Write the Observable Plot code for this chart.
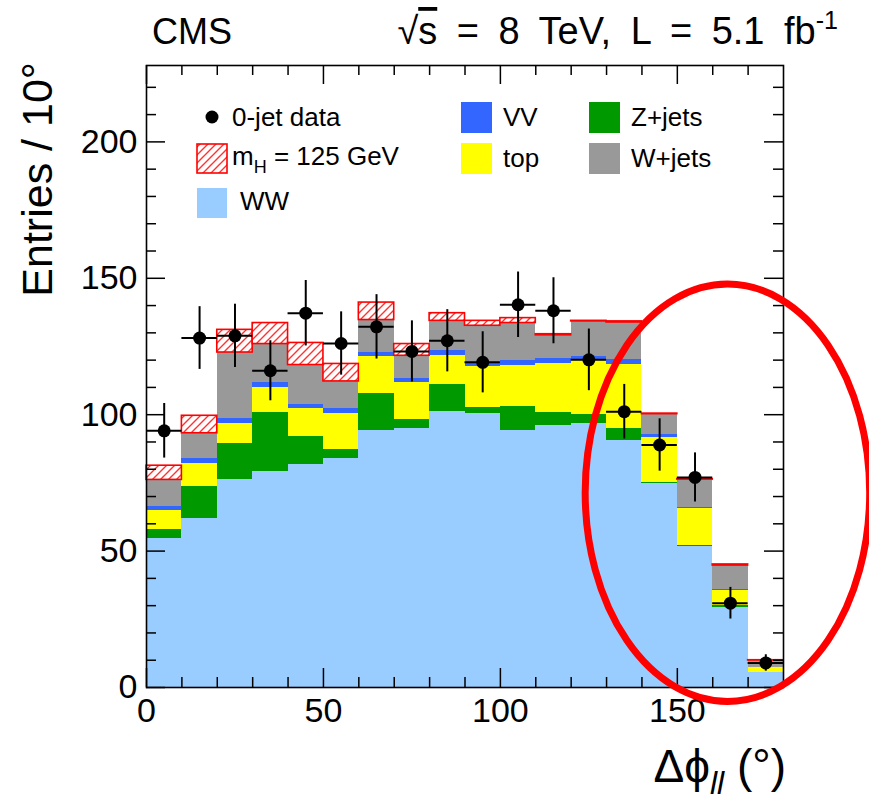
<!DOCTYPE html>
<html>
<head>
<meta charset="utf-8">
<script src="https://cdn.jsdelivr.net/npm/d3@7"></script>
<script src="https://cdn.jsdelivr.net/npm/@observablehq/plot@0.6"></script>
<style>
  body { margin: 0; background: #fff; }
  svg { display: block; }
</style>
</head>
<body>
<div id="chart"></div>
<script>
// ---- data (Δφ_ll bins of 10°) ----
const binEdges = [0,10,20,30,40,50,60,70,80,90,100,110,120,130,140,150,160,170,180];
const ww    = [54.8,62.0,76.1,79.1,81.6,83.8,94.1,94.8,101.1,100.5,94.1,96.0,96.6,90.5,74.6,51.6,29.4,5.4];
const zjets = [3.0,11.6,13.2,21.7,10.5,3.6,13.5,3.6,10.1,2.2,8.8,4.8,3.6,4.5,0.4,0.4,0.7,0.1];
const topq  = [7.0,8.6,7.6,9.2,10.2,13.1,13.6,13.4,10.6,14.9,15.0,18.1,19.9,23.3,16.7,13.5,5.4,1.7];
const vv    = [1.6,1.6,1.8,1.7,1.6,1.6,1.6,1.6,1.9,1.6,1.9,1.7,1.3,1.8,1.0,0.4,0.5,0.2];
const wjets = [9.7,9.4,24.1,14.2,14.3,10.1,11.9,8.2,10.7,13.4,13.8,8.5,12.8,13.7,7.5,10.3,8.7,2.5];
const higgs = [5.2,6.4,8.3,7.7,8.1,6.4,6.4,4.3,2.8,1.8,1.8,0.4,0.2,0.4,0.2,0.2,0.4,0.1];
const dataCounts = [94.1,128.1,128.9,116.1,137.2,126.1,132.2,123.2,127.1,119.2,140.3,138.1,120.1,101.1,88.9,77.0,30.9,9.0];
const dataErrors = [10.0,11.5,11.6,11.0,12.0,11.6,11.8,11.2,11.4,11.2,12.0,12.1,11.3,10.0,9.6,9.0,5.8,3.0];

const seriesNames  = ["WW","Z+jets","top","VV","W+jets","mH = 125 GeV"];
const seriesColors = ["#99ccff","#009900","#ffff00","#3366ff","#999999","url(#hatch)"];

const xMajorTicks = [0,50,100,150];
const xMinorTicks = [10,20,30,40,60,70,80,90,110,120,130,140,160,170];
const yMajorTicks = [0,50,100,150,200];
const yMinorTicks = [10,20,30,40,60,70,80,90,110,120,130,140,160,170,180,190,210,220];

// annotation ellipse (data units)
const ellipseCenter = [164.3, 71.2];
const ellipseRadii  = [40.2, 76.5];

// ---- layout ----
const W = 869, H = 808;
const mL = 146, mR = 86, mT = 65, mB = 121;
const frameW = W - mL - mR, frameH = H - mT - mB;
const FONT = "'Liberation Sans', Arial, Helvetica, sans-serif";

// stacked table
const layers = [ww, zjets, topq, vv, wjets, higgs];
const stackRows = [];
for (let i = 0; i < ww.length; i++) {
  let base = 0;
  layers.forEach((arr, k) => {
    stackRows.push({k, x1: binEdges[i], x2: binEdges[i+1], y1: base, y2: base + arr[i]});
    base += arr[i];
  });
}
const points = dataCounts.map((v, i) => ({
  x: (binEdges[i] + binEdges[i+1]) / 2, x1: binEdges[i], x2: binEdges[i+1],
  y: v, lo: v - dataErrors[i], hi: v + dataErrors[i]
}));

const marks = [];
layers.forEach((arr, k) => {
  const rows = stackRows.filter(r => r.k === k);
  if (k === 5) {
    marks.push(Plot.rect(rows, {x1: "x1", x2: "x2", y1: "y1", y2: "y2", fill: seriesColors[k], stroke: "#ff0000", strokeWidth: 1.6}));
  } else {
    marks.push(Plot.rect(rows, {x1: "x1", x2: "x2", y1: "y1", y2: "y2", fill: seriesColors[k], shapeRendering: "crispEdges"}));
  }
});
// data points with error bars
marks.push(Plot.ruleX(points, {x: "x", y1: "lo", y2: "hi", stroke: "black", strokeWidth: 2}));
marks.push(Plot.ruleY(points, {y: "y", x1: "x1", x2: "x2", stroke: "black", strokeWidth: 2}));
marks.push(Plot.dot(points, {x: "x", y: "y", r: 6.5, fill: "black"}));
// frame and inward ticks on all four sides
marks.push(Plot.frame({stroke: "black", strokeWidth: 1.6}));
const tk = {stroke: "black", strokeWidth: 1.5};
marks.push(Plot.tickX(xMajorTicks, {x: d => d, insetTop: frameH - 19, ...tk}));
marks.push(Plot.tickX(xMajorTicks, {x: d => d, insetBottom: frameH - 19, ...tk}));
marks.push(Plot.tickX(xMinorTicks, {x: d => d, insetTop: frameH - 10, ...tk}));
marks.push(Plot.tickX(xMinorTicks, {x: d => d, insetBottom: frameH - 10, ...tk}));
marks.push(Plot.tickY(yMajorTicks, {y: d => d, insetRight: frameW - 19, ...tk}));
marks.push(Plot.tickY(yMajorTicks, {y: d => d, insetLeft: frameW - 19, ...tk}));
marks.push(Plot.tickY(yMinorTicks, {y: d => d, insetRight: frameW - 10, ...tk}));
marks.push(Plot.tickY(yMinorTicks, {y: d => d, insetLeft: frameW - 10, ...tk}));
// tick labels
marks.push(Plot.text(xMajorTicks, {x: d => d, text: d => String(d), frameAnchor: "bottom", dy: 24, lineAnchor: "middle", fontSize: 34, fill: "black"}));
marks.push(Plot.text(yMajorTicks, {y: d => d, text: d => String(d), frameAnchor: "left", textAnchor: "end", dx: -9, lineAnchor: "middle", fontSize: 34, fill: "black"}));

const chart = Plot.plot({
  width: W, height: H,
  marginLeft: mL, marginRight: mR, marginTop: mT, marginBottom: mB,
  x: {domain: [0, 180], axis: null},
  y: {domain: [0, 228], axis: null},
  style: {fontFamily: FONT, background: "white", color: "black", overflow: "visible"},
  marks
});
document.getElementById("chart").appendChild(chart);

// ---- decorations drawn in the same SVG ----
const svg = d3.select(chart);
const defs = svg.insert("defs", ":first-child");
const pat = defs.append("pattern").attr("id", "hatch").attr("patternUnits", "userSpaceOnUse")
  .attr("width", 8).attr("height", 8);
pat.append("rect").attr("width", 8).attr("height", 8).attr("fill", "white");
pat.append("path").attr("d", "M-2,2 L2,-2 M0,8 L8,0 M6,10 L10,6")
  .attr("stroke", "#ff3030").attr("stroke-width", 1.4);

const xs = chart.scale("x"), ys = chart.scale("y");
const cx = xs.apply(ellipseCenter[0]), cy = ys.apply(ellipseCenter[1]);
const rx = xs.apply(ellipseCenter[0] + ellipseRadii[0]) - cx;
const ry = cy - ys.apply(ellipseCenter[1] + ellipseRadii[1]);
svg.append("ellipse").attr("cx", cx).attr("cy", cy).attr("rx", rx).attr("ry", ry)
  .attr("fill", "none").attr("stroke", "#ff0000").attr("stroke-width", 7);

const g = svg.append("g").attr("font-family", FONT).attr("fill", "black").attr("text-anchor", "start");
// header
g.append("text").attr("x", 152).attr("y", 44).attr("font-size", 36).text("CMS");
const hdr = g.append("text").attr("x", 838).attr("y", 44).attr("font-size", 38)
  .attr("text-anchor", "end").attr("word-spacing", 9);
hdr.append("tspan").text("√");
hdr.append("tspan").attr("text-decoration", "overline").text("s");
hdr.append("tspan").text(" = 8 TeV, L = 5.1 fb");
hdr.append("tspan").attr("font-size", 25).attr("dy", -15).text("-1");

// axis titles
g.append("text").attr("transform", "translate(52,62) rotate(-90)").attr("text-anchor", "end")
  .attr("font-size", 43).text("Entries / 10°");
const xt = g.append("text").attr("x", 786).attr("y", 782).attr("font-size", 46).attr("text-anchor", "end");
xt.append("tspan").text("Δϕ");
xt.append("tspan").attr("font-size", 32).attr("font-style", "italic").attr("dy", 12).text("ll");
xt.append("tspan").attr("dy", -12).text(" (°)");

// legend
const lg = g.append("g").attr("font-size", 26);
lg.append("circle").attr("cx", 212).attr("cy", 117).attr("r", 6.5).attr("fill", "black");
lg.append("text").attr("x", 232).attr("y", 126).text("0-jet data");
lg.append("rect").attr("x", 197).attr("y", 144).attr("width", 30).attr("height", 29)
  .attr("fill", "url(#hatch)").attr("stroke", "#ff0000").attr("stroke-width", 1.6);
const mh = lg.append("text").attr("x", 232).attr("y", 165);
mh.append("tspan").text("m");
mh.append("tspan").attr("font-size", 18).attr("dy", 8).text("H");
mh.append("tspan").attr("dy", -8).text(" = 125 GeV");
lg.append("rect").attr("x", 197).attr("y", 188).attr("width", 30).attr("height", 30).attr("fill", seriesColors[0]);
lg.append("text").attr("x", 240).attr("y", 210).text(seriesNames[0]);
const legendItems = [
  {k: 3, x: 461, y: 102}, {k: 2, x: 461, y: 143},
  {k: 1, x: 589, y: 102}, {k: 4, x: 589, y: 143}
];
legendItems.forEach(it => {
  lg.append("rect").attr("x", it.x).attr("y", it.y).attr("width", 31).attr("height", 31).attr("fill", seriesColors[it.k]);
  lg.append("text").attr("x", it.x + 42).attr("y", it.y + 24).text(seriesNames[it.k]);
});
</script>
</body>
</html>
